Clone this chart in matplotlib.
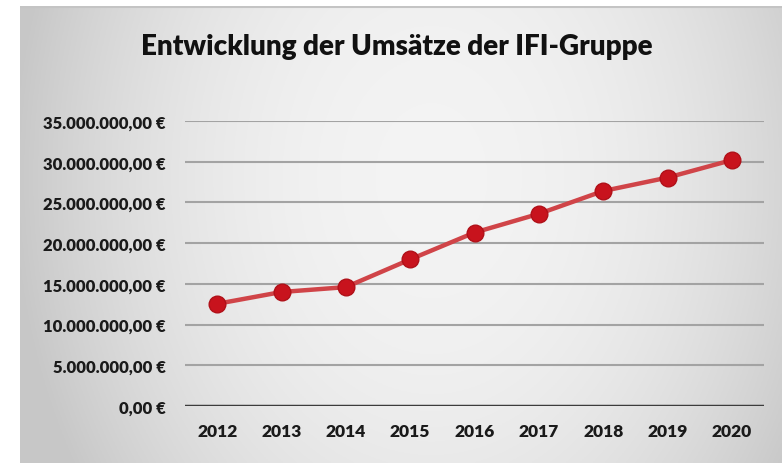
import numpy as np
import matplotlib
matplotlib.use("Agg")
import matplotlib.pyplot as plt

# Daten
jahre = ["2012", "2013", "2014", "2015", "2016", "2017", "2018", "2019", "2020"]
umsatz = [12.55e6, 14.0e6, 14.6e6, 18.0e6, 21.3e6, 23.6e6, 26.4e6, 28.05e6, 30.2e6]
y_ticks = [0, 5e6, 10e6, 15e6, 20e6, 25e6, 30e6, 35e6]


def euro(v):
    s = f"{v:,.2f}".replace(",", "X").replace(".", ",").replace("X", ".")
    return s + " €"


plt.rcParams['font.family'] = ['Lato', 'DejaVu Sans']

fig = plt.figure(figsize=(7.82, 4.64), dpi=100)
fig.patch.set_facecolor("white")

# Hintergrund mit Verlauf (hell in der Mitte, grau am Rand)
bg = fig.add_axes([20 / 782, 0, 762 / 782, 457 / 464], zorder=0)
xx, yy = np.meshgrid(np.linspace(-1, 1, 400), np.linspace(-1, 1, 240))
r = np.sqrt(((xx - 0.08) * 1.0) ** 2 + ((yy - 0.25) * 0.45) ** 2)
shade = 0.955 - 0.14 * np.clip(r, 0, 1.1) ** 2.2
bg.imshow(np.dstack([shade] * 3), aspect="auto", extent=[0, 1, 0, 1], origin="lower",
          vmin=0, vmax=1)
bg.plot([0, 1], [0.998, 0.998], color="#c4c4c4", lw=1.5, transform=bg.transAxes)
bg.set_xlim(0, 1)
bg.set_ylim(0, 1)
bg.axis("off")

ax = fig.add_axes([185 / 782, 1 - 407 / 464, (764 - 185) / 782, (407 - 122) / 464], zorder=1)
ax.patch.set_alpha(0)

x = np.arange(len(jahre))
ax.plot(x, umsatz, color="#d04448", lw=3.2, solid_capstyle="round", zorder=3,
        marker="o", markersize=12, markerfacecolor="#c8131d", markeredgecolor="#b01018",
        markeredgewidth=1, clip_on=False)

ax.set_xlim(-0.5, len(jahre) - 0.5)
ax.set_ylim(0, 35e6)
ax.set_yticks(y_ticks)
ax.set_yticklabels([euro(v) for v in y_ticks], fontsize=12, fontweight="heavy", color="#1a1a1a")
ax.set_xticks(x)
ax.set_xticklabels(jahre, fontsize=12.5, fontweight="heavy", color="#1a1a1a")
ax.tick_params(length=0, pad=14)
ax.tick_params(axis="x", pad=12)
for v in y_ticks[1:]:
    ax.axhline(v, color="#a3a3a3", lw=1.5, zorder=1)
ax.axhline(0, color="#3c3c3c", lw=2.5, zorder=2)
for s in ax.spines.values():
    s.set_visible(False)

fig.text(397 / 782, 1 - 47 / 464, "Entwicklung der Umsätze der IFI-Gruppe",
         ha="center", va="center", fontsize=20, fontweight="heavy", color="#111111")

fig.savefig("out.png", dpi=100)
